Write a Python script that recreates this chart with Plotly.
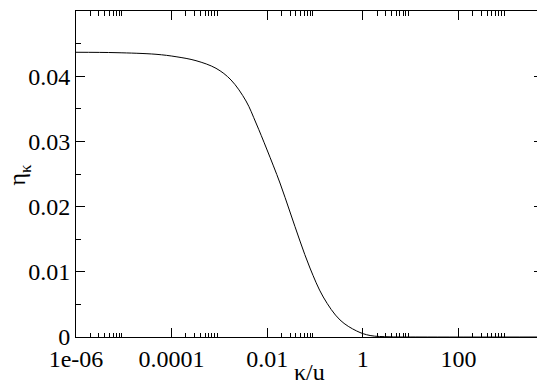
import numpy as np
import plotly.graph_objects as go

# data
kappa_over_u = [1e-6, 6.87e-6, 4.72e-5, 1.24e-4, 3.24e-4, 8.49e-4, 1.75e-3, 3.60e-3,
                5.83e-3, 9.77e-3, 1.85e-2, 3.00e-2, 4.85e-2, 7.85e-2, 0.149, 0.334,
                0.745, 1.42, 3.71, 15.7, 5600.0]
eta_kappa = [0.04367, 0.04361, 0.04336, 0.04299, 0.04238, 0.04121, 0.03942, 0.03620,
             0.03282, 0.02883, 0.02362, 0.01917, 0.01472, 0.01058, 0.00613, 0.00261,
             0.00092, 0.00023, 0.00003, 0.0, 0.0]

x_major = [1e-6, 1e-4, 1e-2, 1, 100]
x_major_text = ["1e-06", "0.0001", "0.01", "1", "100"]
x_minor = [m * v for v in x_major for m in range(2, 10)]
y_major = [0, 0.01, 0.02, 0.03, 0.04, 0.05]
y_major_text = ["0", "0.01", "0.02", "0.03", "0.04", "0.05"]
y_minor = [0.005, 0.015, 0.025, 0.035, 0.045]

font = "Liberation Serif, Tinos, Times New Roman, DejaVu Serif, serif"

fig = go.Figure()
fig.add_trace(go.Scatter(x=kappa_over_u, y=eta_kappa, mode="lines",
                         line=dict(color="black", width=1, shape="spline", smoothing=1.0),
                         showlegend=False))

fig.update_layout(
    width=545, height=384,
    margin=dict(l=68, r=10, t=3, b=55, autoexpand=False),
    paper_bgcolor="white", plot_bgcolor="white",
    font=dict(family=font, size=24, color="black"),
    xaxis=dict(
        type="log", range=[-6, 3.77], automargin=False,
        showgrid=False, zeroline=False,
        showline=True, linecolor="black", linewidth=1, mirror="ticks",
        ticks="inside", ticklen=9, tickwidth=1, tickcolor="black",
        tickmode="array", tickvals=x_major, ticktext=x_major_text,
        minor=dict(tickmode="array", tickvals=x_minor, ticks="inside",
                   ticklen=4.5, tickwidth=1, tickcolor="black", showgrid=False),
        tickfont=dict(family=font, size=24),
    ),
    yaxis=dict(
        range=[0, 0.05], automargin=False,
        showgrid=False, zeroline=False,
        showline=True, linecolor="black", linewidth=1, mirror="ticks",
        ticks="inside", ticklen=9, tickwidth=1, tickcolor="black",
        tickmode="array", tickvals=y_major, ticktext=y_major_text,
        minor=dict(tickmode="array", tickvals=y_minor, ticks="inside",
                   ticklen=5, tickwidth=1, tickcolor="black", showgrid=False),
        tickfont=dict(family=font, size=24),
    ),
    annotations=[
        dict(text="κ/u", xref="paper", yref="paper", x=0.5, y=-0.107,
             xanchor="center", yanchor="middle", showarrow=False,
             font=dict(family=font, size=24)),
        dict(text="η<sub>κ</sub>", xref="paper", yref="paper", x=-0.121, y=0.5,
             xanchor="center", yanchor="middle", showarrow=False, textangle=-90,
             font=dict(family=font, size=24)),
    ],
)

fig.write_html("out.html")
